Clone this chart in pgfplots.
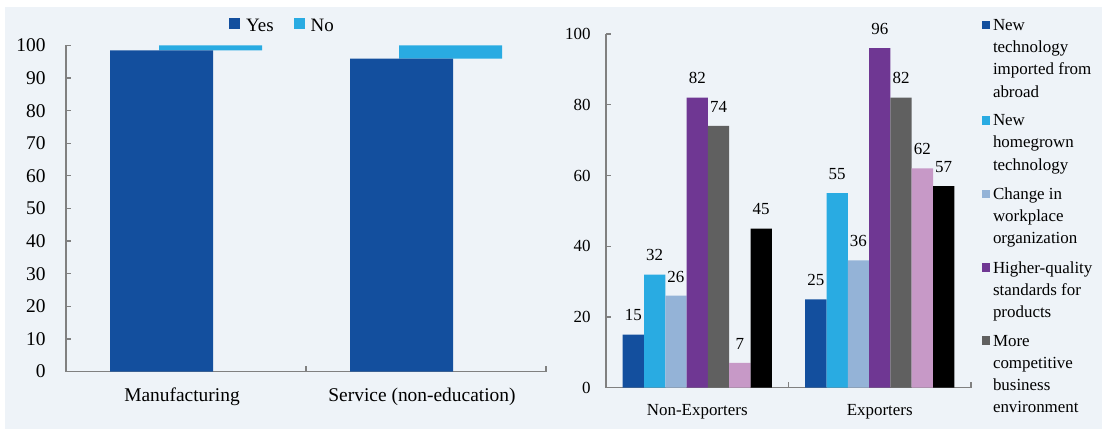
\documentclass[border=0pt]{standalone}
\usepackage{fontspec}
\setmainfont{Liberation Serif}
\usepackage{pgfplots}
\pgfplotsset{compat=1.18}
\definecolor{bgc}{RGB}{238,243,248}
\definecolor{cYes}{RGB}{19,79,158}
\definecolor{cNo}{RGB}{41,171,226}
\definecolor{cChg}{RGB}{148,179,215}
\definecolor{cHQ}{RGB}{111,55,147}
\definecolor{cMC}{RGB}{96,96,96}
\definecolor{cPink}{RGB}{199,153,199}
\definecolor{axg}{RGB}{128,128,128}
\pgfplotsset{
  sqL/.style={legend image code/.code={\fill[##1,draw=none] (0bp,2bp) rectangle (11bp,13bp);}},
  sqRthree/.style={legend image code/.code={\fill[##1,draw=none] (0bp,45.6bp) rectangle (8.5bp,54.1bp);}},
  sqRfour/.style={legend image code/.code={\fill[##1,draw=none] (0bp,67.9bp) rectangle (8.5bp,76.4bp);}},
}
\begin{document}
\begin{tikzpicture}[x=1bp,y=1bp]
\fill[white] (0,0) rectangle (1102,429);
\fill[bgc] (5,0) rectangle (1102,422);
% Left panel
\begin{axis}[
  at={(66bp,57.5bp)}, anchor=south west,
  scale only axis, width=480bp, height=326bp,
  xmin=-0.5, xmax=1.5, ymin=0, ymax=100,
  axis x line*=bottom, axis y line*=left,
  axis line style={axg, line width=1.3bp},
  ybar stacked, bar width=103bp,
  xtick={0,1}, xticklabels={Manufacturing,Service (non-education)},
  minor xtick={0.5,1.5},
  ytick={0,10,...,100},
  tick align=inside,
  major tick length=5bp, minor tick length=6bp,
  tick style={axg, line width=1.2bp},
  major x tick style={draw=none},
  /pgf/number format/assume math mode=true,
  ticklabel style={font=\fontsize{19.5}{23}\selectfont},
  xticklabel style={yshift=-13bp, xshift=-4bp},
  yticklabel style={xshift=-17bp},
  clip=false,
  legend columns=2,
  legend style={at={(0.451,1.06)}, anchor=center, draw=none, fill=none,
    font=\fontsize{19}{23}\selectfont,
    cells={anchor=base west},
    /tikz/every odd column/.append style={column sep=4bp},
    /tikz/every even column/.append style={column sep=18bp}},
]
\addplot[fill=cYes, draw=none, bar shift=-24.5bp, sqL] coordinates {(0,98.5) (1,96)};
\addplot[fill=cNo, draw=none, bar shift=24.5bp, sqL] coordinates {(0,1.5) (1,4)};
\legend{Yes,No}
\end{axis}
% Right panel
\begin{axis}[
  at={(606bp,41.3bp)}, anchor=south west,
  scale only axis, width=365bp, height=353.7bp,
  xmin=-0.5, xmax=1.5, ymin=0, ymax=100,
  axis x line*=bottom, axis y line*=left,
  axis line style={axg, line width=1.3bp},
  ybar=0pt, bar width=21.3bp,
  xtick={0,1}, xticklabels={Non-Exporters,Exporters},
  minor xtick={0.5,1.5},
  ytick={0,20,...,100},
  tick align=inside,
  major tick length=5bp, minor tick length=6bp,
  tick style={axg, line width=1.2bp},
  major x tick style={draw=none},
  /pgf/number format/assume math mode=true,
  ticklabel style={font=\fontsize{17}{21}\selectfont},
  xticklabel style={yshift=-13bp},
  yticklabel style={xshift=-12bp},
  clip=false,
  nodes near coords,
  every node near coord/.append style={font=\fontsize{17}{21}\selectfont, yshift=10bp, text=black},
  legend style={at={(1.02,1.053)}, anchor=north west, draw=none, fill=none,
    font=\fontsize{17}{22.3}\selectfont,
    cells={anchor=base west, align=left},
    row sep=12bp,
    /tikz/every odd column/.append style={column sep=1bp}},
]
\addplot[fill=cYes, draw=none, bar shift=-63.9bp, sqRfour] coordinates {(0,15) (1,25)};
\addplot[fill=cNo, draw=none, bar shift=-42.6bp, sqRthree] coordinates {(0,32) (1,55)};
\addplot[fill=cChg, draw=none, bar shift=-21.3bp, sqRthree] coordinates {(0,26) (1,36)};
\addplot[fill=cHQ, draw=none, bar shift=0bp, sqRthree] coordinates {(0,82) (1,96)};
\addplot[fill=cMC, draw=none, bar shift=21.3bp, sqRfour] coordinates {(0,74) (1,82)};
\addplot[fill=cPink, draw=none, bar shift=42.6bp] coordinates {(0,7) (1,62)};
\addplot[fill=black, draw=none, bar shift=63.9bp] coordinates {(0,45) (1,57)};
\legend{New\\technology\\imported from\\abroad,
        New\\homegrown\\technology,
        Change in\\workplace\\organization,
        Higher-quality\\standards for\\products,
        More\\competitive\\business\\environment}
\end{axis}
\end{tikzpicture}
\end{document}
